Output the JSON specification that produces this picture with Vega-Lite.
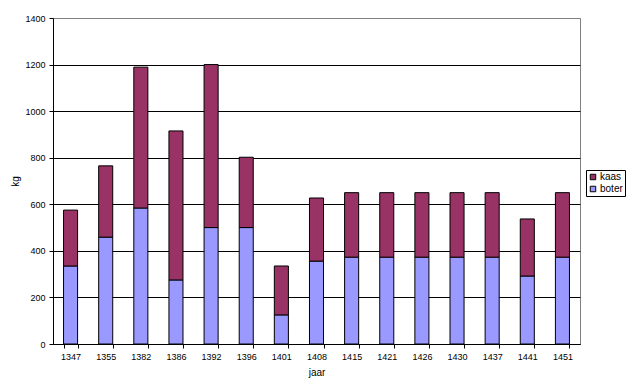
{
  "$schema": "https://vega.github.io/schema/vega-lite/v6.json",
  "width": 527,
  "height": 326,
  "autosize": {"type": "none"},
  "padding": {"left": 53, "top": 18, "right": 47, "bottom": 46},
  "background": "white",
  "config": {
    "font": "Liberation Sans",
    "view": {"stroke": "#808080", "strokeWidth": 1},
    "axis": {"labelFont": "Liberation Sans", "titleFont": "Liberation Sans", "labelColor": "black", "titleColor": "black", "domainColor": "black", "tickColor": "black", "labelFontSize": 9, "titleFontSize": 10, "titleFontWeight": "normal"}
  },
  "data": {
    "values": [
      {"jaar": "1347", "type": "boter", "kg": 335}, {"jaar": "1347", "type": "kaas", "kg": 240},
      {"jaar": "1355", "type": "boter", "kg": 459}, {"jaar": "1355", "type": "kaas", "kg": 306},
      {"jaar": "1382", "type": "boter", "kg": 584}, {"jaar": "1382", "type": "kaas", "kg": 605},
      {"jaar": "1386", "type": "boter", "kg": 275}, {"jaar": "1386", "type": "kaas", "kg": 640},
      {"jaar": "1392", "type": "boter", "kg": 500}, {"jaar": "1392", "type": "kaas", "kg": 700},
      {"jaar": "1396", "type": "boter", "kg": 500}, {"jaar": "1396", "type": "kaas", "kg": 302},
      {"jaar": "1401", "type": "boter", "kg": 125}, {"jaar": "1401", "type": "kaas", "kg": 210},
      {"jaar": "1408", "type": "boter", "kg": 356}, {"jaar": "1408", "type": "kaas", "kg": 271},
      {"jaar": "1415", "type": "boter", "kg": 373}, {"jaar": "1415", "type": "kaas", "kg": 277},
      {"jaar": "1421", "type": "boter", "kg": 373}, {"jaar": "1421", "type": "kaas", "kg": 277},
      {"jaar": "1426", "type": "boter", "kg": 373}, {"jaar": "1426", "type": "kaas", "kg": 277},
      {"jaar": "1430", "type": "boter", "kg": 373}, {"jaar": "1430", "type": "kaas", "kg": 277},
      {"jaar": "1437", "type": "boter", "kg": 373}, {"jaar": "1437", "type": "kaas", "kg": 277},
      {"jaar": "1441", "type": "boter", "kg": 292}, {"jaar": "1441", "type": "kaas", "kg": 245},
      {"jaar": "1451", "type": "boter", "kg": 373}, {"jaar": "1451", "type": "kaas", "kg": 277}
    ]
  },
  "mark": {"type": "bar", "stroke": "black", "strokeWidth": 1},
  "encoding": {
    "x": {
      "field": "jaar", "type": "ordinal", "title": "jaar",
      "scale": {"paddingInner": 0.6, "paddingOuter": 0.3},
      "axis": {"labelAngle": 0, "tickBand": "extent", "tickSize": 4, "labelPadding": 4, "titlePadding": 6, "grid": false}
    },
    "y": {
      "field": "kg", "type": "quantitative", "title": "kg", "stack": "zero",
      "scale": {"domain": [0, 1400], "nice": false},
      "axis": {
        "values": [0, 200, 400, 600, 800, 1000, 1200, 1400],
        "format": "d",
        "grid": true,
        "gridColor": {"condition": {"test": "datum.value == 1400", "value": "#808080"}, "value": "black"},
        "gridOpacity": 1,
        "tickSize": 4, "labelPadding": 4, "titlePadding": 4
      }
    },
    "color": {
      "field": "type", "type": "nominal",
      "scale": {"domain": ["kaas", "boter"], "range": ["#993366", "#9999FF"]},
      "legend": {
        "title": null, "orient": "none", "legendX": 533, "legendY": 152,
        "strokeColor": "black", "padding": 2, "symbolType": "square", "symbolSize": 30,
        "symbolStrokeColor": "black", "symbolStrokeWidth": 1, "symbolOpacity": 1,
        "labelFontSize": 10, "labelFont": "Liberation Sans", "labelColor": "black",
        "rowPadding": 2, "labelOffset": 2, "fillColor": "white"
      }
    },
    "order": {"field": "type", "sort": "ascending"}
  }
}
